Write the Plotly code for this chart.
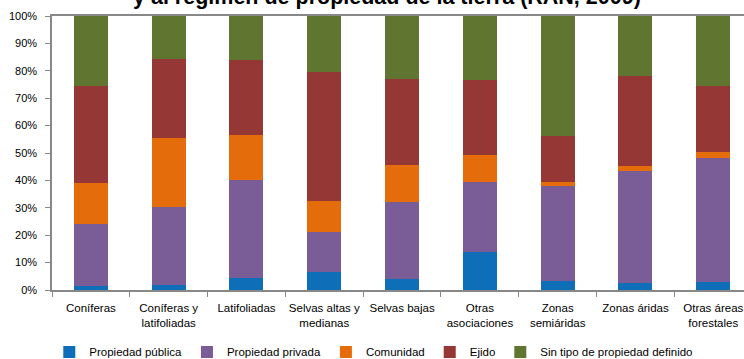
import plotly.graph_objects as go

categories = ["Coníferas", "Coníferas y<br>latifoliadas", "Latifoliadas", "Selvas altas y<br>medianas",
              "Selvas bajas", "Otras<br>asociaciones", "Zonas<br>semiáridas", "Zonas áridas",
              "Otras áreas<br>forestales"]
propiedad_publica = [1.3, 1.8, 4.5, 6.6, 4.0, 13.9, 3.2, 2.4, 2.8]
propiedad_privada = [22.7, 28.4, 35.5, 14.5, 28.1, 25.7, 34.8, 41.0, 45.5]
comunidad = [15.0, 25.3, 16.6, 11.3, 13.6, 9.5, 1.6, 1.7, 2.1]
ejido = [35.5, 28.8, 27.4, 47.0, 31.3, 27.6, 16.7, 33.1, 24.0]
sin_tipo = [25.5, 15.7, 16.0, 20.6, 23.0, 23.3, 43.7, 21.8, 25.6]

series = [
    ("Propiedad pública", propiedad_publica, "#0E6FB8"),
    ("Propiedad privada", propiedad_privada, "#7A5C96"),
    ("Comunidad", comunidad, "#E46C0A"),
    ("Ejido", ejido, "#953735"),
    ("Sin tipo de propiedad definido", sin_tipo, "#5F7530"),
]

FONT = "Liberation Sans"

fig = go.Figure()
for name, vals, col in series:
    fig.add_trace(go.Bar(x=categories, y=vals, name=name, marker=dict(color=col, line=dict(width=0)),
                         width=0.437))

fig.update_layout(
    barmode="stack",
    width=744, height=359,
    margin=dict(l=52, r=0, t=16, b=69, autoexpand=False),
    paper_bgcolor="white", plot_bgcolor="white",
    font=dict(family=FONT, size=11.5, color="#000000"),
    showlegend=True,
    legend=dict(orientation="h", x=0.465, xanchor="center", y=-0.226, yanchor="middle",
                font=dict(family=FONT, size=11.5), itemwidth=30, traceorder="normal"),
    xaxis=dict(range=[-0.5, 8.395], showline=True, linecolor="#888888", linewidth=1.5,
               mirror=True, ticks="outside", ticklen=5, tickcolor="#888888", tickson="boundaries",
               showgrid=False, tickangle=0, automargin=False, ticklabelstandoff=6,
               tickfont=dict(family=FONT, size=11.5)),
    yaxis=dict(range=[0, 100], dtick=10, ticksuffix="%", showline=True, linecolor="#888888",
               linewidth=1.5, ticks="outside", ticklen=5, tickcolor="#888888", showgrid=False,
               zeroline=False, automargin=False, tickfont=dict(family=FONT, size=11),
               ticklabelstandoff=6),
    yaxis2=dict(range=[0, 100], dtick=10, overlaying="y", side="right", showticklabels=False,
                ticks="inside", ticklen=6, tickcolor="#888888", showline=False, showgrid=False,
                zeroline=False),
    annotations=[dict(text="<b>y al régimen de propiedad de la tierra (RAN, 2009)</b>",
                      xref="paper", yref="paper", x=0.484, y=1.018, xanchor="center", yanchor="bottom",
                      showarrow=False, font=dict(family=FONT, size=21.5, color="#000000"))],
)

fig.write_html("out.html")
